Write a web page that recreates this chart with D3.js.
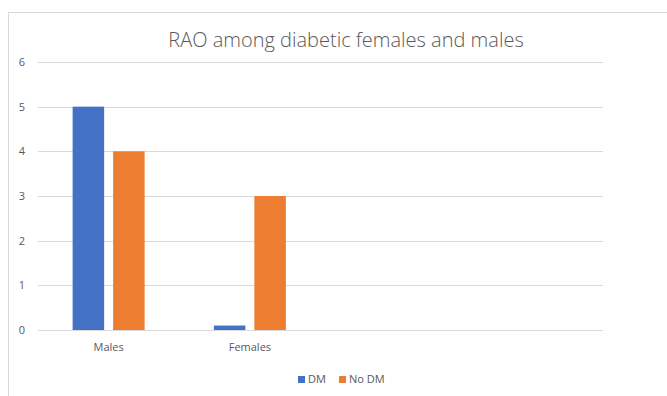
<!DOCTYPE html>
<html>
<head>
<meta charset="utf-8">
<script src="https://cdn.jsdelivr.net/npm/d3@7"></script>
<style>
  html, body { margin: 0; padding: 0; background: #fff; }
  svg { display: block; }
</style>
</head>
<body>
<svg id="chart" width="667" height="396"></svg>
<script>
// Chart data
const categories = ["Males", "Females", "", ""];
const seriesNames = ["DM", "No DM"];
const dmValues = [5, 0.1, null, null];
const noDmValues = [4, 3, null, null];
const yTicks = [0, 1, 2, 3, 4, 5, 6];
const colors = ["#4472c4", "#ed7d31"];

const svg = d3.select("#chart");
const W = 667, H = 396;
const textColor = "#595959";
const font = "'Open Sans', 'Liberation Sans', sans-serif";

// Outer chart frame
svg.append("rect")
  .attr("x", 8.5).attr("y", 12.5)
  .attr("width", W).attr("height", H)
  .attr("fill", "#fff")
  .attr("stroke", "#d9d9d9").attr("stroke-width", 1);

const plot = { left: 38, right: 603, top: 62, bottom: 330 };

const x = d3.scaleBand()
  .domain(d3.range(categories.length))
  .range([plot.left, plot.right]);

const y = d3.scaleLinear()
  .domain([0, 6])
  .range([plot.bottom, plot.top]);

// Gridlines
svg.append("g")
  .selectAll("line")
  .data(yTicks)
  .join("line")
  .attr("x1", plot.left).attr("x2", plot.right)
  .attr("y1", d => Math.round(y(d)) + 0.5)
  .attr("y2", d => Math.round(y(d)) + 0.5)
  .attr("stroke", "#d9d9d9").attr("stroke-width", 1);

// Y axis labels
const yAxis = d3.axisLeft(y).tickValues(yTicks).tickFormat(d3.format("d")).tickSize(0).tickPadding(0);
svg.append("g")
  .attr("transform", `translate(${plot.left - 13},0)`)
  .call(yAxis)
  .call(g => g.select(".domain").remove())
  .call(g => g.selectAll("text")
    .attr("fill", textColor)
    .attr("font-family", font)
    .attr("font-size", 11));

// X axis labels
const xAxis = d3.axisBottom(x).tickFormat(i => categories[i]).tickSize(0).tickPadding(0);
svg.append("g")
  .attr("transform", `translate(0,${plot.bottom + 13})`)
  .call(xAxis)
  .call(g => g.select(".domain").remove())
  .call(g => g.selectAll("text")
    .attr("fill", textColor)
    .attr("font-family", font)
    .attr("font-size", 11));

// Bars: two series side by side, centred in each category band
const barW = 31.5, barGap = 9;
const rows = categories.map((c, i) => ({ i, values: [dmValues[i], noDmValues[i]] }));
const groups = svg.append("g")
  .selectAll("g")
  .data(rows)
  .join("g")
  .attr("transform", d => `translate(${x(d.i)},0)`);

groups.selectAll("rect")
  .data(d => d.values.map((v, k) => ({ v, k })).filter(e => e.v != null))
  .join("rect")
  .attr("x", e => x.bandwidth() / 2 + (e.k === 0 ? -barW - barGap / 2 : barGap / 2))
  .attr("width", barW)
  .attr("y", e => y(e.v))
  .attr("height", e => y(0) - y(e.v))
  .attr("fill", e => colors[e.k]);

// Title
svg.append("text")
  .attr("x", 346).attr("y", 47)
  .attr("text-anchor", "middle")
  .attr("fill", textColor)
  .attr("font-family", font)
  .attr("font-weight", 300)
  .attr("font-size", 20)
  .text("RAO among diabetic females and males");

// Legend
const legend = svg.append("g").attr("transform", "translate(298,376)");
const legendOffsets = [0, 41];
seriesNames.forEach((name, k) => {
  const g = legend.append("g").attr("transform", `translate(${legendOffsets[k]},0)`);
  g.append("rect").attr("width", 7).attr("height", 7).attr("fill", colors[k]);
  g.append("text")
    .attr("x", 10).attr("y", 7)
    .attr("fill", textColor)
    .attr("font-family", font)
    .attr("font-size", 11)
    .text(name);
});
</script>
</body>
</html>
